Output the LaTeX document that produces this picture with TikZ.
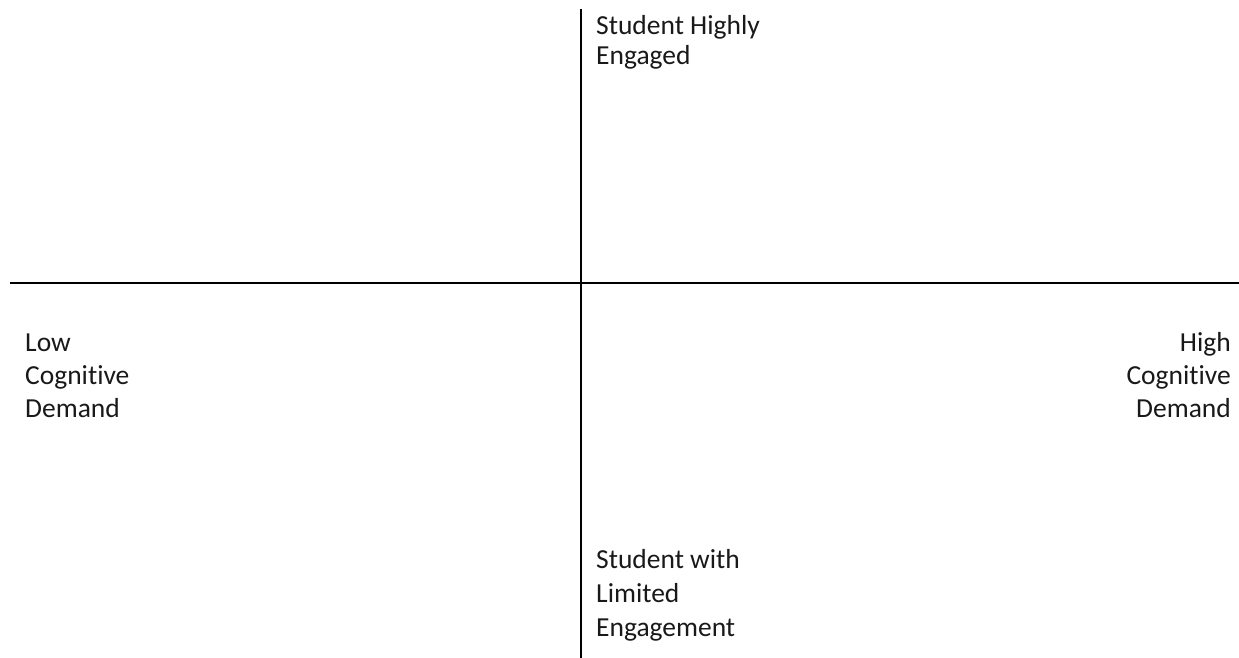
\documentclass[tikz,border=0pt]{standalone}
\usepackage{fontspec}
\setmainfont{Carlito}[Ligatures={NoCommon}]
\begin{document}
\begin{tikzpicture}[x=1pt,y=-1pt,
  axis/.style={line width=1.6pt,black},
  lbl/.style={inner sep=0pt,font=\fontsize{27.5}{33}\selectfont,text=black!90}]
\useasboundingbox[fill=white] (0,0) rectangle (1239,658);
\coordinate (vtop) at (581,9);
\coordinate (vbot) at (581,658);
\coordinate (hl) at (10,283);
\coordinate (hr) at (1239,283);
\draw[axis] (vtop) -- (vbot);
\draw[axis] (hl) -- (hr);
\node[lbl,anchor=base west,align=left,font=\fontsize{27.5}{30}\selectfont] (top) at (596,65) {Student Highly\\Engaged};
\node[lbl,anchor=base west,align=left] (left) at (25,417) {Low\\Cognitive\\Demand};
\node[lbl,anchor=base east,align=right] (right) at (1231,417) {High\\Cognitive\\Demand};
\node[lbl,anchor=base west,align=left,font=\fontsize{27.5}{34}\selectfont] (bottom) at (596,636) {Student with\\Limited\\Engagement};
\end{tikzpicture}
\end{document}
